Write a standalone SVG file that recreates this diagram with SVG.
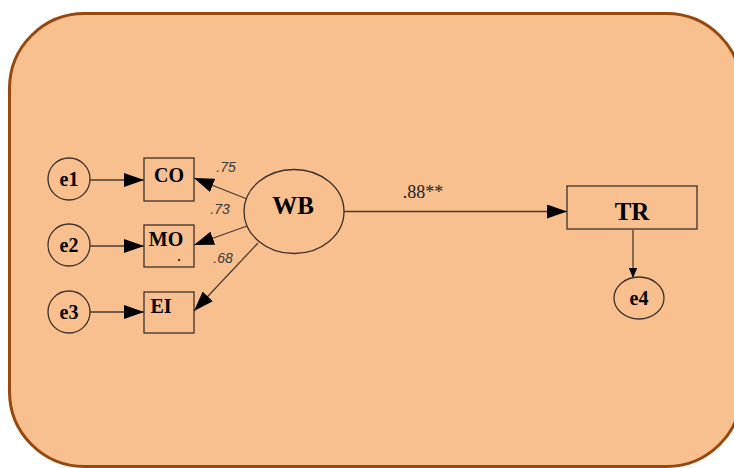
<svg xmlns="http://www.w3.org/2000/svg" width="734" height="468" viewBox="0 0 734 468">
<defs>
<marker id="ah" viewBox="0 0 20 14" refX="20" refY="7" markerWidth="20" markerHeight="14" markerUnits="userSpaceOnUse" orient="auto">
<path d="M0,0 L20,7 L0,14 Z" fill="#000"/>
</marker>
<marker id="ahs" viewBox="0 0 12 10" refX="12" refY="5" markerWidth="10" markerHeight="12" markerUnits="userSpaceOnUse" orient="auto">
<path d="M0,0 L12,5 L0,10 Z" fill="#000"/>
</marker>
</defs>
<style>
.bg{fill:#f8bf8f;stroke:#97480c;stroke-width:3}
.nd{fill:none;stroke:#3d3029;stroke-width:1.3}
.lbl{font-family:"Liberation Serif",serif;font-weight:bold;fill:#000;text-anchor:middle}
.w{font-family:"Liberation Sans",sans-serif;font-style:italic;font-size:14px;fill:#3a3a3a;text-anchor:middle}
.c{stroke:#4a3b31;stroke-width:1.3;fill:none;marker-end:url(#ah)}
</style>
<rect class="bg" x="9.5" y="13.5" width="732" height="453" rx="75" ry="75"/>
<g id="connectors">
<line class="c" x1="90" y1="180" x2="144" y2="180"/>
<line class="c" x1="90" y1="246" x2="144" y2="246"/>
<line class="c" x1="90" y1="312" x2="144" y2="312"/>
<line class="c" x1="247" y1="199" x2="194" y2="178"/>
<line class="c" x1="247" y1="226" x2="194" y2="245"/>
<line class="c" x1="258" y1="243" x2="194" y2="311"/>
<line class="c" x1="344" y1="211.5" x2="567" y2="211.5"/>
<line x1="633" y1="230" x2="633" y2="278" stroke="#4a3b31" stroke-width="1.3" marker-end="url(#ahs)"/>
<text class="w" x="226" y="172">.75</text>
<text class="w" x="220" y="214">.73</text>
<text class="w" x="223" y="263">.68</text>
<text x="423" y="198" font-family="Liberation Serif, serif" font-size="18" fill="#222" text-anchor="middle">.88**</text>
</g>
<g id="e1"><circle class="nd" cx="69" cy="179" r="21"/><text class="lbl" x="69" y="186" font-size="20">e1</text></g>
<g id="e2"><circle class="nd" cx="69" cy="245" r="21"/><text class="lbl" x="69" y="252" font-size="20">e2</text></g>
<g id="e3"><circle class="nd" cx="69" cy="312" r="21"/><text class="lbl" x="69" y="319" font-size="20">e3</text></g>
<g id="CO"><rect class="nd" x="144" y="158" width="50" height="43"/><text class="lbl" x="169" y="182" font-size="20">CO</text></g>
<g id="MO"><rect class="nd" x="144" y="225" width="50" height="42"/><text class="lbl" x="166" y="246" font-size="20">MO</text><text class="lbl" x="179" y="261" font-size="12">.</text></g>
<g id="EI"><rect class="nd" x="144" y="292" width="50" height="41"/><text class="lbl" x="161" y="313" font-size="20">EI</text></g>
<g id="WB"><ellipse class="nd" cx="294" cy="211.5" rx="50" ry="42"/><text class="lbl" x="293" y="214" font-size="25">WB</text></g>
<g id="TR"><rect class="nd" x="567" y="186" width="130" height="43"/><text class="lbl" x="632" y="220" font-size="25">TR</text></g>
<g id="e4"><ellipse class="nd" cx="639" cy="298" rx="25" ry="21"/><text class="lbl" x="639" y="305" font-size="20">e4</text></g>
</svg>
